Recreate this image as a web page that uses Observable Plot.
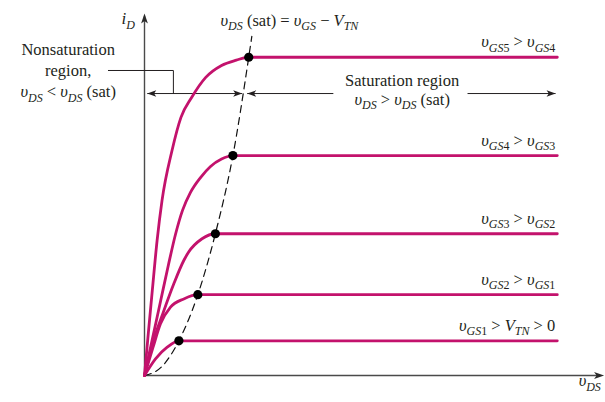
<!DOCTYPE html>
<html>
<head>
<meta charset="utf-8">
<script src="https://cdn.jsdelivr.net/npm/d3@7"></script>
<script src="https://cdn.jsdelivr.net/npm/@observablehq/plot@0.6"></script>
<style>
  html, body { margin: 0; padding: 0; background: #fff; }
  #chart svg { display: block; }
  #chart svg text, #chart svg tspan {
    font-family: "Liberation Serif", "DejaVu Serif", "Times New Roman", serif !important;
  }
</style>
</head>
<body>
<div id="chart"></div>
<script>
// Output characteristics of an n-channel enhancement MOSFET: iD versus vDS
// for five gate voltages, with the vDS(sat) boundary between the regions.

const curveIds = ["vGS1", "vGS2", "vGS3", "vGS4", "vGS5"];
const curveLabels = [
  "*υ*_{GS1} > *V*_{TN} > 0",
  "*υ*_{GS2} > *υ*_{GS1}",
  "*υ*_{GS3} > *υ*_{GS2}",
  "*υ*_{GS4} > *υ*_{GS3}",
  "*υ*_{GS5} > *υ*_{GS4}"
];

// saturation point of each curve
const satVds = [1.0, 1.55, 2.06, 2.57, 3.03];
const satId = [1.31, 3.05, 5.35, 8.3, 12.01];
const vdsEnd = 12;

// rising (nonsaturation) part of each curve, up to its saturation point
const triodeVds = [
  [0, 0.32, 0.66],
  [0, 0.247, 0.465, 0.756, 1.142],
  [0, 0.233, 0.523, 0.852, 1.142, 1.279, 1.672],
  [0, 0.233, 0.465, 0.698, 0.90, 1.105, 1.337, 1.628, 1.919, 2.24],
  [0, 0.11, 0.227, 0.366, 0.509, 0.80, 1.06, 1.37, 1.78, 2.24, 2.67]
];
const triodeId = [
  [0, 0.63, 1.07],
  [0, 1.06, 1.95, 2.58, 2.89],
  [0, 1.21, 2.30, 3.46, 4.34, 4.65, 5.16],
  [0, 1.40, 2.79, 4.19, 5.32, 6.23, 6.91, 7.47, 7.89, 8.17],
  [0, 1.58, 3.21, 5.09, 6.6, 8.49, 9.74, 10.49, 11.25, 11.7, 11.9]
];

// boundary vDS(sat) = vGS − VTN
const edgeVds = [0, 0.5, 1.0, 1.55, 2.06, 2.57, 3.03, 3.12];
const edgeId = [0, 0.33, 1.31, 3.05, 5.35, 8.3, 12.01, 12.8];

// ---- tables for the marks ----
const curvePoints = curveIds.flatMap((id, i) => [
  ...triodeVds[i].map((v, j) => ({curve: id, vds: v, id: triodeId[i][j]})),
  {curve: id, vds: satVds[i], id: satId[i]},
  {curve: id, vds: vdsEnd, id: satId[i]}
]);
const satPoints = curveIds.map((id, i) => ({curve: id, vds: satVds[i], id: satId[i], label: curveLabels[i]}));
const edgePoints = edgeVds.map((v, i) => ({vds: v, id: edgeId[i]}));

// annotation layout, in data units
const xAxisEnd = 13.36, yAxisEnd = 13.66;
const regionY = 10.64;
const regionSegments = [
  {x1: 0.08, x2: 2.84},
  {x1: 2.985, x2: 5.49},
  {x1: 9.39, x2: 11.95}
];
const leader = [[-1.05, 11.51], [0.84, 11.51], [0.84, regionY]];

// filled arrowhead with its tip at the anchor point, pointing along (dx, dy)
function arrowHead(dx, dy, L = 9, W = 3.2, N = 6.8) {
  const px = -dy, py = dx;
  return {
    draw(ctx) {
      ctx.moveTo(0, 0);
      ctx.lineTo(-dx * L + px * W, -dy * L + py * W);
      ctx.lineTo(-dx * N, -dy * N);
      ctx.lineTo(-dx * L - px * W, -dy * L - py * W);
      ctx.closePath();
    }
  };
}

const serif = "Liberation Serif";
const ink = "#231f20";
const pink = "#c3126c";
const fs = 16.5;

const textOpts = {fontFamily: serif, fontSize: fs, fill: ink, lineAnchor: "bottom"};

const chart = Plot.plot({
  width: 605,
  height: 402,
  margin: 0,
  x: {domain: [0, 13.3], range: [144, 144 + 13.3 * 34.4], axis: null},
  y: {domain: [0, 13.7], range: [375, 375 - 13.7 * 26.5], axis: null},
  marks: [
    // axes
    Plot.ruleY([0], {x1: 0, x2: xAxisEnd - 0.1, stroke: "#4a4a4a", strokeWidth: 1.4}),
    Plot.ruleX([0], {y1: 0, y2: yAxisEnd - 0.1, stroke: "#4a4a4a", strokeWidth: 1.4}),
    Plot.dot([[xAxisEnd, 0]], {symbol: arrowHead(1, 0, 10, 3.4, 7.5), r: 4, fill: "#2a2a2a", stroke: null}),
    Plot.dot([[0, yAxisEnd]], {symbol: arrowHead(0, -1, 10, 3.4, 7.5), r: 4, fill: "#2a2a2a", stroke: null}),

    // region arrows and leader
    Plot.link(regionSegments, {x1: "x1", x2: "x2", y1: regionY, y2: regionY, stroke: ink, strokeWidth: 1}),
    Plot.dot([[0.08, regionY], [2.985, regionY]], {symbol: arrowHead(-1, 0), r: 4, fill: ink, stroke: null}),
    Plot.dot([[2.84, regionY], [11.95, regionY]], {symbol: arrowHead(1, 0), r: 4, fill: ink, stroke: null}),
    Plot.line(leader, {stroke: ink, strokeWidth: 1}),

    // vDS(sat) boundary
    Plot.line(edgePoints, {x: "vds", y: "id", curve: "monotone-x", stroke: "#111", strokeWidth: 1.2, strokeDasharray: "7,5"}),

    // characteristic curves
    Plot.line(curvePoints, {x: "vds", y: "id", z: "curve", curve: "monotone-x", stroke: pink, strokeWidth: 2.8}),
    Plot.dot(satPoints, {x: "vds", y: "id", r: 4.6, fill: "#000", stroke: null}),

    // labels
    Plot.text(satPoints, {x: vdsEnd, y: "id", text: "label", textAnchor: "end", dx: -2, dy: -10, ...textOpts}),
    Plot.text(["*i*_{D}"], {x: -0.67, y: 13.25, textAnchor: "start", ...textOpts, fontSize: 17}),
    Plot.text(["*υ*_{DS} (sat) = *υ*_{GS} − *V*_{TN}"], {x: 2.21, y: 13.2, textAnchor: "start", ...textOpts}),
    Plot.text(["Nonsaturation|region,|*υ*_{DS} < *υ*_{DS} (sat)"], {x: -2.22, y: 12.08, textAnchor: "middle", ...textOpts}),
    Plot.text(["Saturation region|*υ*_{DS} > *υ*_{DS} (sat)"], {x: 7.49, y: 10.92, textAnchor: "middle", ...textOpts}),
    Plot.text(["*υ*_{DS}"], {x: 12.62, y: -0.415, textAnchor: "start", ...textOpts})
  ]
});

// Markup inside labels: *…* italic, _{…} subscript, | line break.
const NS = "http://www.w3.org/2000/svg";
const subShift = 4.5;
const lineGap = {2: 18.5, 3: 21};
d3.select(chart).selectAll("text").each(function () {
  const src = this.textContent;
  if (!/[_*|]/.test(src)) return;
  const size = parseFloat(this.getAttribute("font-size")) || fs;
  while (this.firstChild) this.removeChild(this.firstChild);
  const lines = src.split("|");
  const lh = lineGap[lines.length] || 18;
  let down = false;
  lines.forEach((line, li) => {
    let lineStart = li > 0;
    const re = /_\{([^}]*)\}|\*([^*]*)\*|([^_*]+)/g;
    let m;
    while ((m = re.exec(line))) {
      if (m[1] != null) {
        // subscript: letters italic, digits upright
        const parts = m[1].match(/[0-9]+|[^0-9]+/g);
        parts.forEach((p, k) => {
          const t = document.createElementNS(NS, "tspan");
          t.textContent = p;
          t.setAttribute("font-size", (size * 0.73).toFixed(1));
          if (!/[0-9]/.test(p)) t.setAttribute("font-style", "italic");
          if (!down && k === 0) t.setAttribute("dy", subShift);
          this.appendChild(t);
        });
        down = true;
      } else {
        const t = document.createElementNS(NS, "tspan");
        t.textContent = m[2] != null ? m[2] : m[3];
        if (m[2] != null) t.setAttribute("font-style", "italic");
        let dy = 0;
        if (down) { dy -= subShift; down = false; }
        if (lineStart) { t.setAttribute("x", 0); dy += lh; lineStart = false; }
        if (dy) t.setAttribute("dy", dy);
        this.appendChild(t);
      }
    }
  });
});

document.getElementById("chart").appendChild(chart);
</script>
</body>
</html>
